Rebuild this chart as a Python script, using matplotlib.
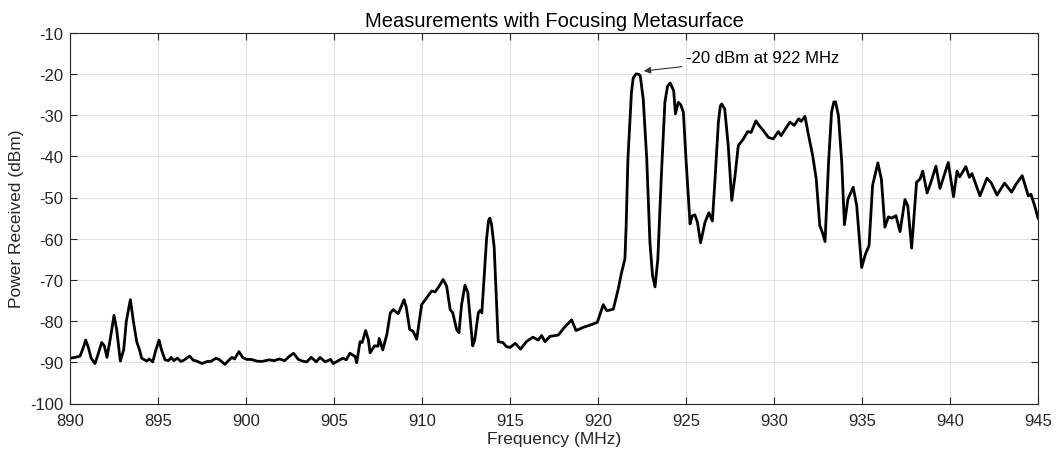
import numpy as np
import matplotlib
matplotlib.use("Agg")
import matplotlib.pyplot as plt

plt.rcParams['font.family'] = ['Liberation Sans', 'DejaVu Sans']
plt.rcParams['axes.unicode_minus'] = False

# Frequency (MHz) and received power (dBm)
freq = [
    890.0, 890.3, 890.57, 890.75, 890.89, 891.05, 891.2, 891.42, 891.6, 891.8,
    891.95, 892.1, 892.3, 892.5, 892.65, 892.86, 893.05, 893.2, 893.43, 893.6,
    893.79, 893.95, 894.07, 894.36, 894.5, 894.7, 894.88, 895.06, 895.2, 895.4,
    895.6, 895.75, 895.9, 896.1, 896.3, 896.5, 896.8, 897.0, 897.2, 897.5,
    897.8, 898.0, 898.3, 898.5, 898.8, 899.0, 899.2, 899.35, 899.6, 899.8,
    900.04, 900.3, 900.6, 900.9, 901.3, 901.6, 901.9, 902.2, 902.45, 902.7,
    902.97, 903.2, 903.45, 903.7, 904.0, 904.2, 904.5, 904.8, 904.96, 905.25,
    905.5, 905.7, 905.9, 906.2, 906.29, 906.48, 906.6, 906.8, 906.95, 907.05,
    907.3, 907.5, 907.57, 907.77, 908.0, 908.2, 908.37, 908.65, 908.98, 909.1,
    909.3, 909.5, 909.7, 909.98, 910.27, 910.55, 910.75, 910.98, 911.2, 911.4,
    911.6, 911.75, 911.97, 912.1, 912.25, 912.44, 912.6, 912.88, 913.0, 913.2,
    913.3, 913.4, 913.52, 913.67, 913.78, 913.86, 913.95, 914.1, 914.33, 914.6,
    914.8, 915.0, 915.3, 915.6, 915.95, 916.3, 916.6, 916.8, 916.99, 917.27,
    917.74, 918.1, 918.5, 918.75, 919.17, 919.6, 919.96, 920.3, 920.5, 920.87,
    921.15, 921.34, 921.53, 921.6, 921.7, 921.9, 922.0, 922.16, 922.3, 922.4,
    922.57, 922.77, 922.95, 923.1, 923.24, 923.4, 923.6, 923.8, 923.95, 924.1,
    924.3, 924.4, 924.56, 924.7, 924.85, 925.0, 925.23, 925.35, 925.5, 925.65,
    925.83, 926.08, 926.3, 926.5, 926.65, 926.84, 926.95, 927.03, 927.2, 927.4,
    927.6, 927.78, 927.97, 928.26, 928.5, 928.7, 928.97, 929.15, 929.4, 929.68,
    929.96, 930.24, 930.4, 930.7, 930.9, 931.15, 931.4, 931.55, 931.76, 931.95,
    932.2, 932.4, 932.6, 932.75, 932.9, 933.1, 933.27, 933.4, 933.5, 933.66,
    933.85, 934.0, 934.2, 934.5, 934.7, 934.98, 935.2, 935.4, 935.6, 935.9,
    936.1, 936.3, 936.5, 936.7, 936.93, 937.16, 937.44, 937.6, 937.82, 938.1,
    938.3, 938.45, 938.7, 938.9, 939.2, 939.43, 939.6, 939.9, 940.2, 940.4,
    940.55, 940.9, 941.1, 941.25, 941.7, 942.1, 942.35, 942.67, 943.1, 943.5,
    943.75, 944.1, 944.45, 944.6, 944.83, 945.0,
]
power = [
    -89.0, -88.8, -88.5, -86.5, -84.6, -86.5, -89.0, -90.3, -88.0, -85.2,
    -86.0, -88.8, -84.0, -78.6, -82.0, -89.7, -87.0, -80.0, -74.8, -80.0,
    -85.0, -87.0, -89.0, -89.7, -89.2, -89.9, -87.0, -84.6, -87.0, -89.4,
    -89.6, -88.8, -89.6, -89.0, -89.8, -89.4, -88.5, -89.5, -89.7, -90.3,
    -89.8, -89.8, -89.0, -89.4, -90.5, -89.6, -88.8, -89.2, -87.4, -88.8,
    -89.3, -89.3, -89.7, -89.8, -89.4, -89.6, -89.2, -89.6, -88.6, -87.8,
    -89.3, -89.7, -89.9, -88.8, -89.9, -88.8, -89.9, -89.3, -90.3, -89.6,
    -89.0, -89.4, -87.8, -88.6, -90.1, -85.0, -85.2, -82.3, -84.5, -87.7,
    -86.0, -86.1, -84.2, -87.0, -83.3, -78.0, -77.2, -78.2, -74.8, -76.5,
    -82.0, -82.5, -84.4, -76.0, -74.3, -72.7, -72.9, -71.5, -69.9, -71.5,
    -77.2, -78.0, -82.1, -82.8, -76.0, -71.3, -73.0, -86.0, -84.5, -78.0,
    -77.4, -78.0, -69.9, -60.0, -55.6, -55.0, -56.5, -62.0, -85.0, -85.2,
    -86.2, -86.4, -85.4, -86.8, -84.9, -83.9, -84.6, -83.5, -85.0, -83.7,
    -83.4, -81.5, -79.7, -82.3, -81.5, -80.9, -80.3, -76.0, -77.5, -77.1,
    -72.2, -68.2, -64.9, -56.8, -40.7, -24.5, -21.0, -20.0, -20.1, -20.4,
    -26.1, -40.7, -60.9, -69.0, -71.7, -64.9, -44.7, -26.9, -23.0, -22.2,
    -24.1, -29.7, -26.9, -27.5, -29.3, -40.7, -56.4, -54.5, -54.2, -56.0,
    -61.0, -56.0, -53.7, -55.7, -45.5, -31.7, -27.8, -27.3, -28.5, -37.4,
    -50.7, -44.9, -37.4, -35.8, -34.0, -34.2, -31.4, -32.5, -33.8, -35.4,
    -35.8, -34.0, -35.0, -33.0, -31.7, -32.5, -30.9, -31.5, -30.3, -34.6,
    -39.9, -45.5, -56.8, -58.5, -60.7, -41.5, -29.3, -26.8, -26.8, -30.1,
    -41.5, -56.6, -50.4, -47.5, -52.0, -67.0, -63.7, -61.7, -47.1, -41.6,
    -45.5, -57.2, -54.7, -55.0, -54.4, -58.3, -50.5, -52.0, -62.3, -46.3,
    -45.5, -43.6, -48.9, -46.5, -42.4, -47.8, -45.5, -41.5, -49.8, -43.6,
    -45.0, -42.5, -45.1, -44.2, -49.6, -45.3, -46.5, -49.4, -46.5, -48.7,
    -46.8, -44.7, -49.6, -49.2, -52.3, -55.0,
]

xticks = np.arange(890, 946, 5)
yticks = np.arange(-100, -9, 10)
axcol = '#262626'

fig = plt.figure(figsize=(10.58, 4.56), dpi=100)
ax = fig.add_axes([70 / 1058, 1 - 404.5 / 456, 968 / 1058, 370.8 / 456])

ax.plot(freq, power, color='black', lw=2.0, solid_joinstyle='round')

ax.set_xlim(890, 945)
ax.set_ylim(-100, -10)
ax.set_xticks(xticks)
ax.set_yticks(yticks)
ax.grid(True, color='#e3e3e3', lw=0.8)
ax.set_axisbelow(True)
ax.tick_params(direction='in', top=True, right=True, length=5, width=0.8,
               colors=axcol, labelsize=12, labelcolor=axcol)
ax.tick_params(axis='y', pad=5)
ax.tick_params(axis='x', pad=7)
for s in ax.spines.values():
    s.set_color(axcol)
    s.set_linewidth(0.8)

ax.set_title('Measurements with Focusing Metasurface', fontsize=14.5, color='black', pad=5)
ax.set_xlabel('Frequency (MHz)', fontsize=12.5, color=axcol, labelpad=2)
ax.set_ylabel('Power Received (dBm)', fontsize=12.5, color=axcol, labelpad=4)

ax.annotate('-20 dBm at 922 MHz', xy=(922.6, -19.3), xytext=(925.0, -16.0),
            fontsize=12, ha='left', va='center', color='black',
            arrowprops=dict(arrowstyle='-|>', color='#333333', lw=0.8,
                            mutation_scale=10, shrinkA=1, shrinkB=0))

fig.savefig('out.png', dpi=100)
